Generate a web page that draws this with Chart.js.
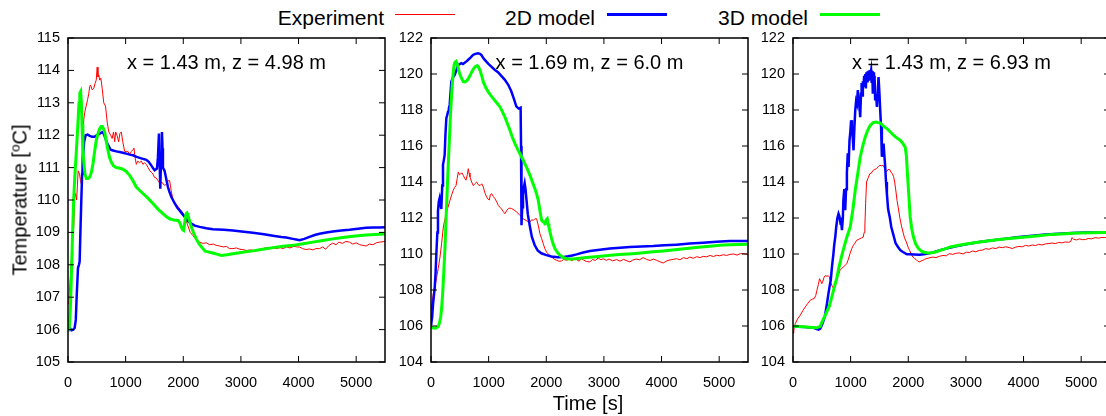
<!DOCTYPE html>
<html>
<head>
<meta charset="utf-8">
<script src="https://cdn.jsdelivr.net/npm/chart.js@4.4.1/dist/chart.umd.min.js"></script>
<style>
html, body { margin: 0; padding: 0; background: #fff; width: 1106px; height: 416px; overflow: hidden; position: relative;
  font-family: "Liberation Sans", Arial, sans-serif; color: #000; }
canvas { position: absolute; top: 0; }
.lg { position: absolute; top: 7px; font-size: 21px; line-height: 21px; white-space: nowrap; }
.ls { position: absolute; }
#ytitle { position: absolute; left: 21px; top: 200px; font-size: 20px; line-height: 20px; white-space: nowrap;
  transform: translate(-50%, -50%) rotate(-90deg); }
#ytitle span { font-size: 0.68em; position: relative; top: -0.5em; }
#xtitle { position: absolute; left: 588px; top: 393px; font-size: 20px; line-height: 20px; transform: translateX(-50%); white-space: nowrap; }
</style>
</head>
<body>
<div class="lg" style="right:722px">Experiment</div>
<div class="ls" style="left:395px;top:14px;width:60px;height:1px;background:#ff0000"></div>
<div class="lg" style="right:511px">2D model</div>
<div class="ls" style="left:607px;top:13px;width:60px;height:3px;background:#0000ff"></div>
<div class="lg" style="right:298px">3D model</div>
<div class="ls" style="left:820px;top:13px;width:60px;height:3px;background:#00ff00"></div>

<canvas id="c1" width="397" height="416" style="left:8px"></canvas>
<canvas id="c2" width="397" height="416" style="left:371px"></canvas>
<canvas id="c3" width="397" height="416" style="left:733px"></canvas>

<div id="ytitle">Temperature [<span>o</span>C]</div>
<div id="xtitle">Time [s]</div>

<script>
// time axis [s]
const xMax = 5500;
const xTicks = [0, 1000, 2000, 3000, 4000, 5000];

// panel titles and temperature ranges
const panelTitles = ['x = 1.43 m, z = 4.98 m', 'x = 1.69 m, z = 6.0 m', 'x = 1.43 m, z = 6.93 m'];
const yMin = [105, 104, 104];
const yMax = [115, 122, 122];
const yStep = [1, 2, 2];

// ---- panel 1: [time, temperature]
const exp1 = [[0,106.8],[14,106.9],[40,107.6],[70,108.6],[101,109.2],[116,110.1],[130,110.2],[150,110.0],[176,110.9],[200,110.8],[217,110.6],[231,110.5],[250,111.8],[275,112.5],[290,112.7],[315,112.9],[340,113.1],[362,113.3],[376,113.5],[390,113.55],[420,113.4],[448,113.45],[470,113.6],[490,113.7],[506,114.1],[520,113.8],[535,113.86],[549,113.7],[570,113.76],[593,113.45],[620,113.0],[651,112.9],[680,112.4],[708,112.1],[740,112.0],[766,111.9],[790,112.1],[810,111.8],[827,112.1],[850,112.0],[879,111.8],[900,112.05],[925,112.1],[950,111.8],[983,111.5],[1010,111.5],[1040,111.5],[1069,111.4],[1100,111.5],[1127,111.55],[1145,111.6],[1165,111.3],[1185,111.1],[1210,111.2],[1240,111.15],[1272,111.2],[1300,111.1],[1330,111.15],[1358,111.1],[1390,111.0],[1420,110.9],[1450,110.85],[1474,110.8],[1500,110.7],[1530,110.68],[1561,110.6],[1600,110.5],[1630,110.55],[1647,110.5],[1680,110.45],[1710,110.5],[1740,110.6],[1763,110.6],[1790,110.3],[1821,110.0],[1860,109.9],[1908,109.8],[1950,109.7],[1994,109.6],[2040,109.4],[2081,109.2],[2120,109.0],[2168,108.9],[2220,108.78],[2283,108.7],[2340,108.66],[2399,108.68],[2460,108.62],[2520,108.64],[2572,108.6],[2630,108.58],[2700,108.55],[2746,108.57],[2800,108.5],[2861,108.5],[2920,108.52],[2980,108.48],[3035,108.47],[3100,108.44],[3150,108.46],[3208,108.45],[3260,108.42],[3320,108.48],[3380,108.5],[3439,108.53],[3500,108.49],[3560,108.52],[3620,108.5],[3680,108.53],[3728,108.5],[3790,108.55],[3850,108.52],[3920,108.57],[3970,108.55],[4017,108.55],[4070,108.5],[4133,108.47],[4190,108.49],[4250,108.46],[4300,108.5],[4364,108.5],[4420,108.55],[4470,108.48],[4530,108.6],[4595,108.67],[4650,108.62],[4700,108.7],[4760,108.66],[4820,108.72],[4884,108.7],[4940,108.64],[5000,108.68],[5060,108.62],[5120,108.6],[5173,108.58],[5230,108.64],[5290,108.62],[5350,108.68],[5405,108.7],[5500,108.72]];
const m2d1 = [[0,106.0],[30,106.05],[60,105.98],[90,106.0],[115,106.05],[135,106.3],[150,107.0],[173,107.9],[190,108.0],[202,108.1],[215,109.0],[231,110.0],[245,110.8],[260,111.3],[280,111.8],[306,112.0],[340,112.02],[376,111.98],[420,111.95],[462,111.95],[500,112.0],[549,112.05],[580,112.08],[607,112.1],[640,111.95],[670,111.8],[694,111.7],[740,111.55],[780,111.53],[840,111.5],[896,111.48],[950,111.46],[1012,111.43],[1070,111.4],[1127,111.38],[1190,111.33],[1243,111.3],[1300,111.27],[1358,111.24],[1400,111.18],[1445,111.07],[1480,110.97],[1503,110.92],[1543,110.97],[1560,111.3],[1578,112.05],[1590,111.2],[1601,110.35],[1615,111.3],[1630,112.1],[1640,111.6],[1647,111.0],[1676,110.9],[1705,110.65],[1734,110.4],[1760,110.25],[1792,110.1],[1850,109.9],[1900,109.75],[1936,109.68],[1980,109.58],[2023,109.48],[2080,109.35],[2139,109.27],[2200,109.21],[2283,109.17],[2400,109.13],[2514,109.1],[2700,109.08],[2861,109.06],[3050,109.02],[3208,108.99],[3400,108.94],[3555,108.9],[3700,108.86],[3786,108.84],[3900,108.8],[3960,108.78],[4017,108.76],[4100,108.8],[4191,108.86],[4280,108.92],[4364,108.96],[4480,109.0],[4595,109.03],[4740,109.06],[4884,109.08],[5030,109.11],[5173,109.14],[5300,109.15],[5405,109.15],[5500,109.16]];
const m3d1 = [[0,105.95],[20,106.0],[40,106.6],[58,107.6],[80,109.0],[98,110.0],[120,110.8],[145,111.5],[170,112.3],[191,113.0],[205,113.3],[220,113.35],[232,113.0],[243,112.35],[258,111.6],[272,111.2],[295,110.8],[318,110.66],[345,110.66],[376,110.7],[405,110.85],[434,111.12],[462,111.5],[491,111.84],[520,112.05],[549,112.2],[575,112.27],[595,112.27],[615,112.2],[636,112.1],[665,111.8],[694,111.53],[720,111.32],[751,111.17],[790,111.05],[838,111.0],[900,110.98],[954,110.95],[1010,110.88],[1069,110.76],[1125,110.6],[1185,110.4],[1240,110.3],[1301,110.2],[1390,110.05],[1474,109.89],[1560,109.72],[1647,109.58],[1710,109.48],[1763,109.42],[1840,109.38],[1908,109.37],[1940,109.3],[1965,109.17],[1990,109.08],[2006,109.06],[2025,109.3],[2040,109.5],[2052,109.58],[2065,109.6],[2081,109.53],[2110,109.35],[2139,109.17],[2180,108.98],[2225,108.8],[2280,108.63],[2341,108.5],[2380,108.42],[2428,108.4],[2480,108.38],[2543,108.35],[2600,108.32],[2659,108.29],[2760,108.31],[2861,108.34],[3030,108.39],[3208,108.43],[3380,108.48],[3555,108.53],[3730,108.57],[3902,108.6],[4080,108.65],[4249,108.7],[4420,108.75],[4595,108.8],[4770,108.84],[4942,108.88],[5173,108.92],[5405,108.94],[5500,108.95]];

// ---- panel 2
const exp2 = [[0,106.87],[20,107.3],[40,107.8],[70,108.2],[98,108.7],[125,109.2],[156,109.83],[185,110.6],[214,111.5],[240,111.9],[260,112.24],[295,112.6],[329,112.98],[360,113.3],[387,113.54],[410,113.7],[434,113.8],[455,114.2],[474,114.56],[495,114.4],[514,114.46],[540,114.5],[561,114.37],[585,114.2],[607,114.1],[630,114.4],[647,114.74],[660,114.5],[676,114.28],[705,114.0],[734,113.8],[760,113.9],[792,114.0],[820,113.85],[850,113.8],[880,113.9],[908,113.72],[935,113.4],[965,113.17],[990,113.05],[1012,113.0],[1030,113.3],[1052,113.35],[1080,113.2],[1110,113.07],[1140,112.9],[1168,112.7],[1195,112.6],[1225,112.5],[1255,112.35],[1283,112.24],[1310,112.4],[1341,112.52],[1370,112.55],[1399,112.52],[1440,112.45],[1486,112.33],[1530,112.2],[1572,112.06],[1600,111.95],[1630,111.9],[1670,111.82],[1717,111.78],[1745,111.9],[1775,111.87],[1800,111.95],[1832,111.96],[1860,111.6],[1890,111.13],[1920,110.85],[1948,110.57],[1975,110.3],[2006,110.1],[2050,109.95],[2092,109.83],[2135,109.72],[2179,109.65],[2220,109.6],[2266,109.61],[2300,109.7],[2353,109.65],[2400,109.72],[2450,109.62],[2490,109.75],[2526,109.69],[2570,109.6],[2610,109.74],[2650,109.66],[2700,109.58],[2757,109.56],[2800,109.7],[2850,109.64],[2900,109.78],[2950,109.68],[2988,109.74],[3040,109.65],[3090,109.72],[3150,109.62],[3220,109.69],[3280,109.6],[3340,109.7],[3400,109.62],[3451,109.56],[3500,109.66],[3560,109.72],[3620,109.68],[3682,109.8],[3740,109.7],[3800,109.64],[3860,109.72],[3913,109.65],[3960,109.58],[4029,109.5],[4080,109.6],[4130,109.66],[4200,109.7],[4260,109.74],[4320,109.68],[4380,109.8],[4440,109.74],[4491,109.83],[4550,109.76],[4610,109.85],[4670,109.8],[4723,109.87],[4780,109.84],[4840,109.92],[4900,109.86],[4954,109.93],[5010,109.9],[5070,109.96],[5130,109.92],[5185,109.98],[5250,110.0],[5310,109.94],[5370,110.02],[5416,110.02],[5500,109.98]];
const m2d2 = [[0,106.13],[5,106.15],[20,106.5],[35,107.2],[64,108.1],[80,109.0],[92,109.94],[110,111.2],[121,112.37],[135,112.9],[150,113.1],[165,112.8],[179,112.5],[195,113.8],[208,114.95],[222,115.2],[237,115.5],[250,116.6],[266,117.54],[280,117.7],[295,117.9],[310,118.1],[324,118.28],[340,119.0],[353,119.58],[380,119.8],[411,119.95],[440,120.2],[468,120.5],[500,120.55],[526,120.6],[555,120.55],[584,120.62],[615,120.7],[642,120.78],[690,120.92],[728,121.06],[770,121.12],[815,121.15],[850,121.12],[873,121.06],[915,120.85],[960,120.69],[1000,120.55],[1047,120.41],[1100,120.25],[1162,120.1],[1220,119.9],[1278,119.69],[1340,119.4],[1393,119.04],[1440,118.6],[1480,118.2],[1520,118.08],[1555,118.13],[1562,116.0],[1570,111.6],[1582,112.6],[1596,113.28],[1610,113.7],[1625,113.93],[1640,113.6],[1654,113.1],[1680,112.2],[1712,111.6],[1750,110.95],[1798,110.5],[1850,110.2],[1914,110.04],[1990,109.95],[2088,109.86],[2203,109.82],[2300,109.83],[2380,109.87],[2450,109.92],[2526,109.98],[2640,110.08],[2757,110.17],[2930,110.24],[3104,110.3],[3280,110.35],[3451,110.39],[3650,110.42],[3855,110.44],[4050,110.48],[4260,110.52],[4490,110.58],[4723,110.63],[4950,110.68],[5185,110.72],[5350,110.72],[5500,110.72]];
const m3d2 = [[0,105.94],[30,105.9],[60,105.88],[95,105.9],[127,105.98],[150,106.2],[168,106.5],[185,107.0],[202,107.8],[222,109.0],[243,110.4],[262,112.0],[283,113.7],[300,115.0],[318,116.3],[338,117.7],[358,118.9],[378,119.8],[399,120.48],[415,120.65],[434,120.7],[455,120.55],[474,120.3],[500,119.98],[532,119.74],[560,119.58],[590,119.56],[620,119.62],[647,119.74],[675,119.9],[705,120.1],[735,120.28],[763,120.39],[803,120.46],[825,120.38],[850,120.2],[880,119.9],[908,119.56],[950,119.25],[994,119.0],[1040,118.8],[1081,118.63],[1140,118.4],[1197,118.17],[1240,117.9],[1283,117.6],[1325,117.25],[1370,116.87],[1410,116.5],[1457,116.13],[1500,115.84],[1543,115.57],[1590,115.28],[1630,115.0],[1675,114.7],[1717,114.37],[1760,114.0],[1803,113.63],[1835,113.3],[1861,112.98],[1890,112.4],[1919,111.87],[1940,111.8],[1960,111.78],[1975,111.68],[1988,111.7],[2000,111.9],[2017,111.96],[2030,111.7],[2046,111.5],[2070,111.15],[2092,110.85],[2120,110.55],[2150,110.3],[2190,110.1],[2237,109.93],[2300,109.8],[2353,109.74],[2410,109.72],[2468,109.72],[2580,109.76],[2699,109.8],[2850,109.85],[2988,109.89],[3160,109.94],[3335,109.98],[3500,110.02],[3682,110.07],[3850,110.12],[4029,110.17],[4230,110.23],[4434,110.3],[4640,110.37],[4838,110.43],[5010,110.48],[5185,110.52],[5350,110.53],[5500,110.54]];

// ---- panel 3
const exp3 = [[0,105.67],[10,105.6],[20,105.9],[40,106.13],[80,106.4],[126,106.6],[170,106.85],[213,107.06],[255,107.25],[299,107.43],[340,107.5],[368,107.52],[395,107.7],[414,107.98],[440,108.3],[460,108.63],[480,108.5],[500,108.35],[520,108.5],[540,108.72],[560,108.8],[586,108.76],[610,108.8],[632,108.72],[650,108.45],[672,108.26],[700,108.1],[730,108.17],[750,108.4],[770,108.72],[795,108.9],[816,109.09],[845,109.2],[874,109.28],[900,109.35],[931,109.46],[960,109.7],[989,110.02],[1020,110.3],[1046,110.48],[1075,110.6],[1103,110.76],[1130,110.8],[1161,110.85],[1190,110.9],[1218,110.94],[1235,111.2],[1247,111.5],[1260,112.8],[1276,114.0],[1300,114.2],[1333,114.46],[1360,114.5],[1391,114.65],[1420,114.7],[1448,114.74],[1480,114.85],[1506,114.93],[1535,114.9],[1563,114.93],[1590,114.75],[1621,114.56],[1650,114.7],[1678,114.69],[1700,114.55],[1724,114.46],[1745,114.3],[1764,114.0],[1785,113.5],[1805,112.98],[1830,112.5],[1851,112.06],[1880,111.6],[1908,111.22],[1935,110.9],[1966,110.67],[1995,110.4],[2023,110.2],[2050,110.0],[2080,109.83],[2110,109.75],[2138,109.69],[2165,109.6],[2195,109.56],[2225,109.62],[2253,109.65],[2280,109.7],[2310,109.74],[2360,109.78],[2425,109.83],[2480,109.8],[2540,109.87],[2600,109.92],[2660,109.9],[2713,110.02],[2770,109.98],[2830,110.04],[2885,110.06],[2950,110.0],[3010,110.1],[3060,110.08],[3115,110.17],[3170,110.12],[3230,110.2],[3290,110.22],[3345,110.3],[3400,110.26],[3460,110.34],[3520,110.3],[3575,110.39],[3630,110.35],[3690,110.4],[3750,110.36],[3805,110.3],[3860,110.38],[3920,110.42],[3980,110.4],[4034,110.48],[4090,110.44],[4150,110.5],[4210,110.47],[4264,110.54],[4320,110.5],[4380,110.56],[4440,110.58],[4494,110.61],[4550,110.58],[4610,110.64],[4670,110.62],[4724,110.67],[4780,110.65],[4820,110.7],[4839,110.91],[4870,110.82],[4920,110.78],[4970,110.84],[5020,110.8],[5069,110.8],[5120,110.86],[5180,110.84],[5241,110.91],[5300,110.88],[5360,110.92],[5402,110.91],[5500,110.93]];
const m2d3 = [[0,105.98],[100,105.96],[200,105.94],[300,105.92],[356,105.9],[400,105.85],[443,105.8],[473,105.85],[500,106.04],[530,106.3],[557,106.6],[589,107.24],[615,107.8],[640,108.3],[655,108.54],[676,109.28],[701,110.0],[715,110.5],[733,110.94],[750,111.5],[770,112.0],[790,112.24],[805,112.1],[820,111.8],[833,111.87],[849,111.32],[865,112.0],[874,112.98],[890,113.6],[906,112.43],[920,113.6],[935,114.5],[950,115.6],[964,114.83],[980,116.3],[995,116.8],[1008,117.43],[1022,117.06],[1036,116.5],[1050,115.76],[1065,117.0],[1080,117.98],[1095,118.5],[1109,118.36],[1125,119.1],[1140,118.5],[1155,118.17],[1166,117.6],[1180,118.9],[1190,119.5],[1200,118.8],[1212,119.6],[1224,119.28],[1234,119.9],[1244,119.3],[1254,120.0],[1264,119.2],[1274,120.1],[1285,119.6],[1295,120.15],[1305,119.7],[1315,120.2],[1325,119.8],[1335,120.22],[1345,120.0],[1355,120.2],[1365,119.5],[1375,120.15],[1385,118.9],[1395,120.1],[1405,119.2],[1415,119.9],[1425,118.6],[1440,118.9],[1456,118.17],[1470,119.0],[1484,119.83],[1500,118.9],[1513,117.98],[1528,117.06],[1542,115.4],[1556,115.7],[1571,116.13],[1585,115.5],[1600,114.83],[1614,114.0],[1629,113.35],[1650,112.5],[1678,112.06],[1705,111.5],[1736,111.13],[1780,110.6],[1822,110.39],[1865,110.2],[1908,110.11],[1976,109.98],[2023,109.98],[2100,109.97],[2195,109.96],[2270,109.98],[2339,110.02],[2440,110.1],[2540,110.2],[2680,110.32],[2828,110.43],[3030,110.56],[3230,110.67],[3460,110.76],[3690,110.85],[3920,110.94],[4149,111.02],[4380,111.08],[4609,111.13],[4840,111.17],[5069,111.2],[5300,111.2],[5500,111.2]];
const m3d3 = [[0,105.98],[100,105.97],[241,105.94],[330,105.92],[414,105.9],[473,105.98],[500,106.2],[545,106.5],[586,106.78],[630,107.1],[672,107.61],[720,108.2],[763,108.7],[800,109.3],[845,109.9],[878,110.3],[931,110.9],[993,111.5],[1040,112.5],[1080,113.54],[1125,114.5],[1166,115.39],[1210,116.0],[1253,116.5],[1300,116.9],[1340,117.15],[1390,117.3],[1440,117.33],[1480,117.3],[1513,117.28],[1570,117.1],[1629,116.97],[1690,116.78],[1744,116.6],[1800,116.45],[1860,116.32],[1908,116.13],[1946,115.94],[1966,115.5],[1985,114.5],[2004,113.54],[2020,112.7],[2033,112.06],[2060,111.4],[2090,110.94],[2130,110.55],[2177,110.3],[2224,110.17],[2263,110.11],[2320,110.07],[2380,110.06],[2460,110.1],[2553,110.2],[2655,110.3],[2726,110.39],[2900,110.5],[3115,110.61],[3340,110.71],[3575,110.8],[3800,110.87],[4034,110.94],[4260,111.01],[4494,111.09],[4720,111.13],[4954,111.17],[5180,111.18],[5402,111.19],[5500,111.19]];

const FONT = '"Liberation Sans", Arial, sans-serif';

// gnuplot style box: frame, inward ticks on all four sides, title inside the box
const framePlugin = {
    id: 'frame',
    afterDraw(chart, args, opts) {
        const { ctx, chartArea: a, scales: { x, y } } = chart;
        const len = 6;
        ctx.save();
        ctx.strokeStyle = '#000';
        ctx.lineWidth = 1;
        ctx.beginPath();
        x.ticks.forEach(t => {
            const px = x.getPixelForValue(t.value);
            ctx.moveTo(px, a.bottom); ctx.lineTo(px, a.bottom - len);
            ctx.moveTo(px, a.top); ctx.lineTo(px, a.top + len);
        });
        y.ticks.forEach(t => {
            const py = y.getPixelForValue(t.value);
            ctx.moveTo(a.left, py); ctx.lineTo(a.left + len, py);
            ctx.moveTo(a.right, py); ctx.lineTo(a.right - len, py);
        });
        ctx.stroke();
        ctx.lineWidth = 1.5;
        ctx.strokeRect(a.left, a.top, a.right - a.left, a.bottom - a.top);
        ctx.fillStyle = '#000';
        ctx.font = '20px ' + FONT;
        ctx.textAlign = 'center';
        ctx.textBaseline = 'middle';
        ctx.fillText(opts.text, (a.left + a.right) / 2, a.top + 25);
        ctx.restore();
    }
};

function makeChart(id, i, exp, m2d, m3d) {
    const ctx = document.getElementById(id).getContext('2d');
    return new Chart(ctx, {
        type: 'line',
        data: {
            datasets: [
                { label: 'Experiment', data: exp, borderColor: '#ff0000', borderWidth: 1, order: 3 },
                { label: '2D model', data: m2d, borderColor: '#0000ff', borderWidth: 2.5, order: 2 },
                { label: '3D model', data: m3d, borderColor: '#00ff00', borderWidth: 3, order: 1 }
            ]
        },
        options: {
            responsive: false,
            animation: false,
            events: [],
            elements: { point: { radius: 0 }, line: { tension: 0 } },
            layout: { padding: { left: 0, right: 20, top: 38, bottom: 0 } },
            scales: {
                x: {
                    type: 'linear', min: 0, max: xMax,
                    grid: { display: false, drawTicks: false },
                    border: { display: false },
                    ticks: { autoSkip: false, maxRotation: 0, minRotation: 0, padding: 12, color: '#000',
                             font: { family: FONT, size: 14.5 }, callback: v => String(v) },
                    afterBuildTicks: s => { s.ticks = xTicks.map(v => ({ value: v })); },
                    afterFit: s => { s.height = 54; }
                },
                y: {
                    min: yMin[i], max: yMax[i],
                    grid: { display: false, drawTicks: false },
                    border: { display: false },
                    ticks: { stepSize: yStep[i], autoSkip: false, padding: 8, color: '#000',
                             font: { family: FONT, size: 14.5 }, callback: v => String(v) },
                    afterFit: s => { s.width = 60; }
                }
            },
            plugins: {
                legend: { display: false },
                tooltip: { enabled: false },
                frame: { text: panelTitles[i] }
            }
        },
        plugins: [framePlugin]
    });
}

makeChart('c1', 0, exp1, m2d1, m3d1);
makeChart('c2', 1, exp2, m2d2, m3d2);
makeChart('c3', 2, exp3, m2d3, m3d3);
</script>
</body>
</html>
